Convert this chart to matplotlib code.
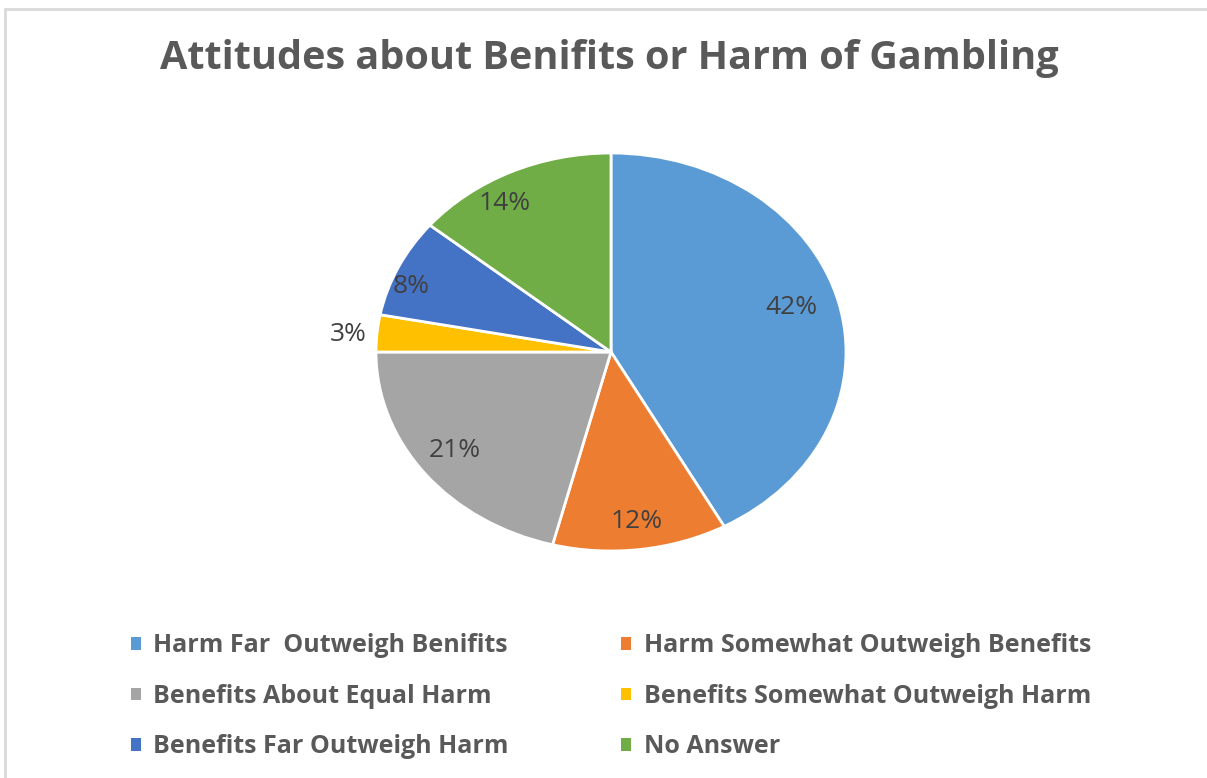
import matplotlib
matplotlib.use('Agg')
import matplotlib.pyplot as plt
import numpy as np
from matplotlib.patches import Rectangle, Patch

title = 'Attitudes about Benifits or Harm of Gambling'
categories = [
    'Harm Far  Outweigh Benifits',
    'Harm Somewhat Outweigh Benefits',
    'Benefits About Equal Harm',
    'Benefits Somewhat Outweigh Harm',
    'Benefits Far Outweigh Harm',
    'No Answer',
]
shares = [42, 12, 21, 3, 8, 14]
colors = ['#5B9BD5', '#ED7D31', '#A5A5A5', '#FFC000', '#4472C4', '#70AD47']
# label placement (Excel "best fit"): radial distance and angle nudge in degrees
label_dist = [0.80, 0.86, 0.83, 1.12, 0.91, 0.87]
label_nudge = [2, 0, -1, 1, 4, 6]

plt.rcParams['font.family'] = ['Open Sans', 'DejaVu Sans']
text_color = '#595959'

fig = plt.figure(figsize=(12.07, 7.78), dpi=100)

# chart border (cut off on the right and bottom in the reference)
fig.add_artist(Rectangle((5 / 1207, -0.05), 1.2, 1.05 - 9 / 778,
                         transform=fig.transFigure, fill=False,
                         edgecolor='#D9D9D9', linewidth=2))

fig.text(0.505, 0.925, title, ha='center', va='center', fontsize=28.5,
         fontweight='bold', color=text_color)

# slightly stretched pie, like the source image
ax = fig.add_axes([376 / 1207, 227 / 778, 470 / 1207, 398 / 778])
wedges, _ = ax.pie(shares, colors=colors, startangle=90, counterclock=False,
                   wedgeprops=dict(edgecolor='white', linewidth=2))
ax.set_aspect('auto')
ax.set_xlim(-1, 1)
ax.set_ylim(-1, 1)
ax.axis('off')

for w, val, d, n in zip(wedges, shares, label_dist, label_nudge):
    mid = np.deg2rad((w.theta1 + w.theta2) / 2 + n)
    ax.text(d * np.cos(mid), d * np.sin(mid), f'{val}%', ha='center',
            va='center', fontsize=19, color='#404040')

handles = [Patch(facecolor=c, edgecolor='none') for c in colors]
order = [0, 2, 4, 1, 3, 5]
fig.legend([handles[i] for i in order], [categories[i] for i in order],
           ncol=2, loc='center left', bbox_to_anchor=(118 / 1207, 0.105),
           frameon=False, borderpad=0, handlelength=0.4, handleheight=0.4,
           handletextpad=0.5, columnspacing=4.5, labelspacing=1.02,
           prop=dict(weight='bold', size=18),
           labelcolor=text_color)

fig.savefig('out.png', dpi=100)
